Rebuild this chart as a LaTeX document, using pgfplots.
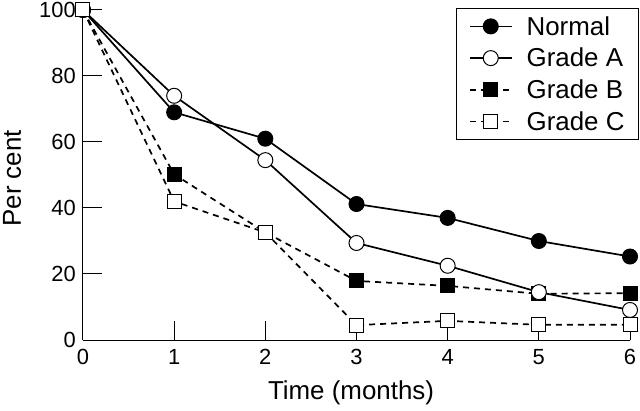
\documentclass[border=0pt]{standalone}
\usepackage{pgfplots}
\pgfplotsset{compat=1.18}
\usepackage{fontspec}
\setmainfont{Liberation Sans}
\begin{document}
\begin{tikzpicture}
\begin{axis}[
  name=ax, scale only axis, width=547bp, height=330bp,
  xmin=0, xmax=6, ymin=0, ymax=100, clip=false,
  axis lines=left, axis line style={-, line width=1bp, black},
  tick align=inside, major tick length=19bp,
  tick style={line width=1bp, black},
  xtick={0,1,...,6}, ytick={0,20,...,100},
  ticklabel style={font=\fontsize{22}{26}\selectfont},
  /pgf/number format/assume math mode=true,
  yticklabel style={xshift=-3.7bp},
  xticklabel style={yshift=-5.7bp},
  xlabel={Time (months)}, ylabel={Per cent},
  label style={font=\fontsize{26}{30}\selectfont},
  xlabel style={at={(axis description cs:0.49,0)}, anchor=center, yshift=-53bp},
  ylabel style={at={(axis description cs:0,0.49)}, anchor=center, yshift=71bp},
  legend style={at={(1,1)}, anchor=north east, xshift=9bp, yshift=2bp,
    draw=black, line width=1bp, font=\fontsize{26}{30}\selectfont,
    inner xsep=12bp, inner ysep=5.75bp, row sep=7.5bp, column sep=12bp,
    cells={anchor=west}},
  legend image code/.code={\draw[mark repeat=2, mark phase=2] plot coordinates {(0bp,0bp) (21bp,0bp) (42bp,0bp)};},
]
\addlegendimage{black, line width=1.7bp, mark=*, mark size=7.5bp, mark options={solid, fill=black, line width=1bp}}
\addlegendentry{Normal}
\addlegendimage{black, line width=1.7bp, mark=*, mark size=7.5bp, mark options={solid, fill=white, line width=1bp}}
\addlegendentry{Grade A}
\addlegendimage{black, line width=1.7bp, dash pattern=on 6bp off 5bp, mark=square*, mark size=7bp, mark options={solid, fill=black, line width=1bp}}
\addlegendentry{Grade B}
\addlegendimage{black, line width=1.7bp, dash pattern=on 6bp off 5bp, mark=square*, mark size=7bp, mark options={solid, fill=white, line width=1bp}}
\addlegendentry{Grade C}

% Normal
\addplot[forget plot, black, line width=1.7bp, mark=*, mark size=7.5bp, mark options={solid, fill=black, line width=1bp}]
  coordinates {(0,100) (1,69) (2,61) (3,41.2) (4,37) (5,30) (6,25.3)};
% Grade B
\addplot[forget plot, black, line width=1.7bp, dash pattern=on 6bp off 5bp, mark=square*, mark size=7bp, mark options={solid, fill=black, line width=1bp}]
  coordinates {(0,100) (1,50.2) (2,32.6) (3,17.9) (4,16.4) (5,14) (6,14.2)};
% Grade A
\addplot[forget plot, black, line width=1.7bp, mark=*, mark size=7.5bp, mark options={solid, fill=white, line width=1bp}]
  coordinates {(0,100) (1,74) (2,54.5) (3,29.4) (4,22.5) (5,14.5) (6,9.1)};
% Grade C
\addplot[forget plot, black, line width=1.7bp, dash pattern=on 6bp off 5bp, mark=square*, mark size=7bp, mark options={solid, fill=white, line width=1bp}]
  coordinates {(0,100) (1,42) (2,32.6) (3,4.5) (4,5.8) (5,4.6) (6,4.6)};
\end{axis}
\pgfresetboundingbox
\path ([xshift=-83bp,yshift=-71bp]ax.south west) rectangle ++(640bp,411bp);
\end{tikzpicture}
\end{document}
